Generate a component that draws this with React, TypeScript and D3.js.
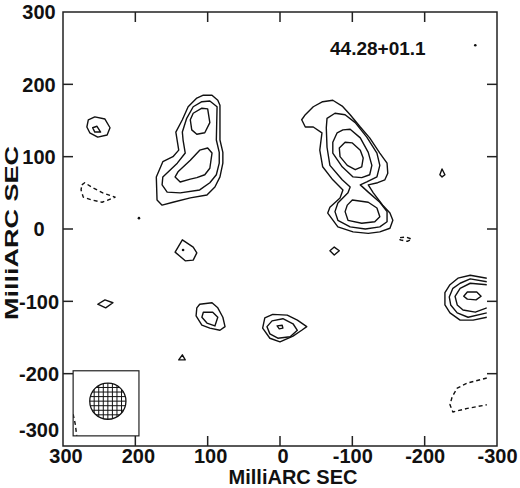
import React from 'react';
import * as d3 from 'd3';

type P = [number, number];

const title = '44.28+01.1';
const axisTitle = 'MilliARC SEC';
const tickValues = [-300, -200, -100, 0, 100, 200, 300];
const mapLimit = 286; // map extent in mas

// left (eastern) component, three levels
const compA1: P[] = [[106,185],[94,185],[86,178],[83,171],[83,123],[79,106],[79,91],[83,72],[90,58],[101,47],[124,43],[148,37],[163,33],[170,40],[171,72],[162,93],[148,100],[140,109],[144,134],[135,151],[127,169],[115,181]];
const compA2: P[] = [[108,176],[97,177],[87,169],[88,123],[84,106],[84,91],[88,75],[97,64],[111,54],[138,50],[156,51],[163,61],[162,72],[142,91],[131,105],[134,123],[135,134],[129,153],[120,169]];
const compA3a: P[] = [[120,160],[108,167],[100,166],[97,147],[104,133],[115,131],[122,137],[124,151]];
const compA3b: P[] = [[111,109],[100,112],[94,105],[97,84],[104,75],[115,71],[124,69],[138,65],[145,72],[141,79],[124,95]];

// right (western) component, four levels
const compB1: P[] = [[-30,151],[-35,158],[-46,169],[-59,176],[-73,178],[-86,170],[-97,158],[-111,141],[-124,126],[-138,105],[-148,91],[-149,77],[-145,68],[-135,64],[-122,61],[-129,50],[-142,33],[-152,22],[-156,12],[-152,1],[-138,-4],[-122,-6],[-101,-4],[-80,3],[-66,22],[-69,30],[-83,43],[-87,54],[-73,68],[-59,86],[-55,109],[-58,133],[-46,141],[-35,141]];
const compB2: P[] = [[-65,153],[-76,160],[-90,158],[-104,147],[-120,127],[-134,105],[-138,88],[-134,72],[-120,65],[-111,61],[-122,51],[-138,37],[-148,24],[-148,10],[-138,3],[-118,0],[-97,3],[-80,12],[-76,24],[-80,36],[-94,50],[-97,58],[-86,68],[-69,88],[-65,113],[-64,140]];
const compB3a: P[] = [[-87,137],[-97,138],[-111,126],[-122,106],[-127,88],[-124,75],[-113,71],[-101,72],[-86,86],[-73,105],[-73,120],[-79,133]];
const compB3b: P[] = [[-100,40],[-122,37],[-134,29],[-138,17],[-131,10],[-113,8],[-94,12],[-90,24],[-93,33]];
const compB4: P[] = [[-90,120],[-100,119],[-111,109],[-115,98],[-113,86],[-104,82],[-93,88],[-83,100],[-82,112]];

// weaker features
const blobNE1: P[] = [[265,151],[256,155],[242,152],[235,140],[239,130],[252,127],[263,133],[267,141]];
const blobNE2: P[] = [[259,140],[253,142],[248,134],[256,134]];
const blobS1: P[] = [[135,-15],[120,-25],[115,-33],[120,-43],[131,-44],[145,-32]];
const blobMid: P[] = [[-69,-30],[-75,-25],[-82,-30],[-75,-36]];
const blobC1: P[] = [[111,-104],[94,-102],[86,-109],[79,-122],[76,-135],[83,-140],[97,-137],[108,-133],[116,-120],[115,-109]];
const blobC2: P[] = [[106,-115],[93,-115],[86,-122],[90,-134],[101,-130],[108,-122]];
const blobD1: P[] = [[21,-123],[10,-118],[-10,-119],[-24,-126],[-37,-135],[-30,-140],[-18,-148],[0,-156],[14,-151],[24,-137]];
const blobD2: P[] = [[18,-135],[11,-127],[-4,-124],[-18,-131],[-24,-140],[-14,-149],[3,-151],[14,-145]];
const blobD3: P[] = [[4,-134],[-3,-133],[-4,-137],[1,-138]];
const blobSE: P[] = [[140,-181],[135,-174],[131,-181]];
const blobFarE: P[] = [[252,-104],[242,-98],[231,-102],[241,-109]];
const blobW: P[] = [[-224,83],[-228,75],[-224,72],[-221,75]];
const blobR4: P[] = [[-259,-87],[-272,-87],[-278,-93],[-271,-98],[-259,-97],[-254,-93]];

// contours running off the western map edge
const edgeR1: P[] = [[-286,-68],[-263,-64],[-246,-68],[-235,-77],[-228,-88],[-228,-105],[-235,-116],[-249,-126],[-267,-126],[-286,-122]];
const edgeR2: P[] = [[-286,-73],[-263,-69],[-249,-75],[-239,-82],[-234,-94],[-236,-105],[-245,-116],[-260,-122],[-286,-116]];
const edgeR3: P[] = [[-286,-77],[-263,-75],[-249,-82],[-242,-93],[-245,-105],[-253,-112],[-270,-115],[-286,-109]];

// negative contours
const negE: P[] = [[274,61],[270,64],[259,57],[245,50],[228,44],[238,40],[246,37],[260,40],[272,44],[275,54]];
const negMid: P[] = [[-166,-12],[-174,-11],[-182,-14],[-176,-17],[-166,-15]];
const negSW: P[] = [[-286,-206],[-259,-213],[-245,-220],[-238,-232],[-235,-243],[-239,-253],[-259,-248],[-286,-243]];
const negCorner: P[] = [[286,-256],[283,-270],[281,-286]];

// unresolved peaks
const peaks: P[] = [[195,15],[134,-29],[-270,254]];

// restoring beam
const beamCenter: P = [238, -238];
const beamRadius = 25;
const beamBox = { x0: 286, x1: 195, y0: -286, y1: -196 };
const beamGrid = [-3, -2, -1, 0, 1, 2, 3];
const beamGridStep = 6.3;

const closedPos = [compA1, compA2, compA3a, compA3b, compB1, compB2, compB3a, compB3b, compB4,
  blobNE1, blobNE2, blobS1, blobMid, blobC1, blobC2, blobD1, blobD2, blobD3, blobSE, blobFarE, blobW, blobR4];
const openPos = [edgeR1, edgeR2, edgeR3];
const closedNeg = [negE, negMid];
const openNeg = [negSW, negCorner];

const W = 520;
const H = 488;
const font = '"Liberation Sans", Arial, Helvetica, sans-serif';

export default function App() {
  const x = d3.scaleLinear().domain([300, -300]).range([63, 497]);
  const y = d3.scaleLinear().domain([-300, 300]).range([446, 12]);

  const closed = d3.line<P>().x(d => x(d[0])).y(d => y(d[1])).curve(d3.curveLinearClosed);
  const open = d3.line<P>().x(d => x(d[0])).y(d => y(d[1]));

  const inner = tickValues.filter(v => Math.abs(v) < 300);
  const tickLen = 10;

  // beam hatching
  const [bx, by] = beamCenter;
  const hatch: [P, P][] = [];
  beamGrid.forEach(k => {
    const o = k * beamGridStep;
    const h = Math.sqrt(beamRadius * beamRadius - o * o);
    hatch.push([[bx + o, by - h], [bx + o, by + h]]);
    hatch.push([[bx - h, by + o], [bx + h, by + o]]);
  });

  return (
    <svg width={W} height={H} style={{ position: 'absolute', left: 0, top: 0, background: '#fff' }}>
      <defs>
        <clipPath id="map">
          <rect x={x(mapLimit)} y={y(mapLimit)} width={x(-mapLimit) - x(mapLimit)} height={y(-mapLimit) - y(mapLimit)} />
        </clipPath>
      </defs>

      {/* frame */}
      <rect x={x(300)} y={y(300)} width={x(-300) - x(300)} height={y(-300) - y(300)} fill="none" stroke="#222" strokeWidth={1.5} />
      {inner.map(v => (
        <g key={'t' + v} stroke="#222" strokeWidth={1.5}>
          <line x1={x(v)} x2={x(v)} y1={y(-300)} y2={y(-300) - tickLen} />
          <line x1={x(v)} x2={x(v)} y1={y(300)} y2={y(300) + tickLen} />
          <line x1={x(300)} x2={x(300) + tickLen} y1={y(v)} y2={y(v)} />
          <line x1={x(-300)} x2={x(-300) - tickLen} y1={y(v)} y2={y(v)} />
        </g>
      ))}

      {/* contours */}
      <g clipPath="url(#map)" fill="none" stroke="#111" strokeWidth={1.4} strokeLinejoin="round">
        {closedPos.map((c, i) => <path key={'cp' + i} d={closed(c) || ''} />)}
        {openPos.map((c, i) => <path key={'op' + i} d={open(c) || ''} />)}
        <g strokeDasharray="4,3">
          {closedNeg.map((c, i) => <path key={'cn' + i} d={closed(c) || ''} />)}
          {openNeg.map((c, i) => <path key={'on' + i} d={open(c) || ''} />)}
        </g>
        {peaks.map((p, i) => <circle key={'pk' + i} cx={x(p[0])} cy={y(p[1])} r={1.3} fill="#111" stroke="none" />)}
      </g>

      {/* beam */}
      <rect x={x(beamBox.x0)} y={y(beamBox.y1)} width={x(beamBox.x1) - x(beamBox.x0)} height={y(beamBox.y0) - y(beamBox.y1)}
        fill="none" stroke="#222" strokeWidth={1.2} />
      <g stroke="#111" strokeWidth={1}>
        {hatch.map((s, i) => <line key={'h' + i} x1={x(s[0][0])} y1={y(s[0][1])} x2={x(s[1][0])} y2={y(s[1][1])} />)}
      </g>
      <circle cx={x(bx)} cy={y(by)} r={x(bx - beamRadius) - x(bx)} fill="none" stroke="#111" strokeWidth={1.3} />

      {/* labels */}
      <g fontFamily={font} fontWeight="bold" fontSize={20} fill="#111">
        {tickValues.map(v => (
          <text key={'xl' + v} x={x(v) + (v >= 0 ? 3 : 0.5)} y={463} textAnchor="middle">{v}</text>
        ))}
        {tickValues.map(v => (
          <text key={'yl' + v} x={39} y={y(v) + (v === -300 ? -16 : 0)} dy="0.36em" textAnchor="middle">{v}</text>
        ))}
        <text x={293} y={483.5} textAnchor="middle" fontSize={20}>{axisTitle}</text>
        <text transform="translate(17.5,233) rotate(-90) scale(1.42,1)" textAnchor="middle" fontSize={19}>{axisTitle}</text>
        <text x={330} y={55} fontSize={19}>{title}</text>
      </g>
    </svg>
  );
}
